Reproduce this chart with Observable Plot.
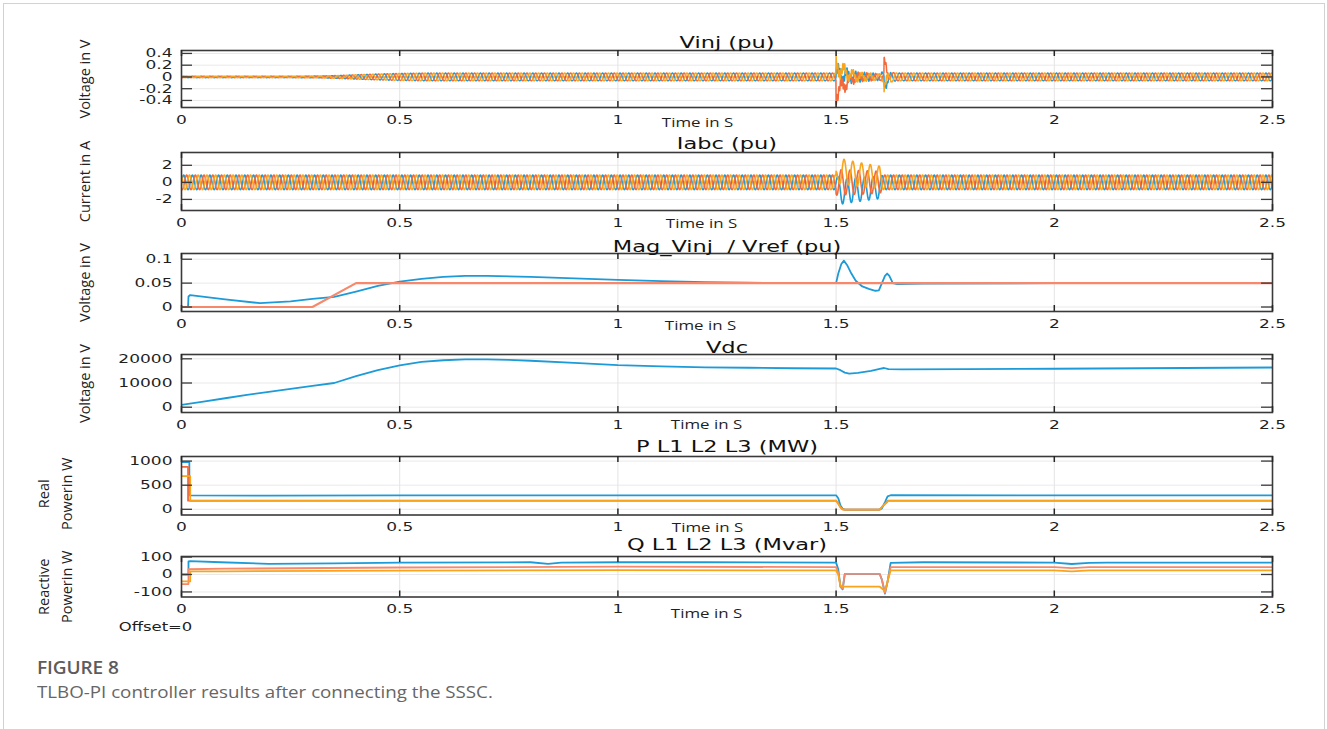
<!DOCTYPE html>
<html>
<head>
<meta charset="utf-8">
<script src="https://cdn.jsdelivr.net/npm/d3@7"></script>
<script src="https://cdn.jsdelivr.net/npm/@observablehq/plot@0.6"></script>
<style>
  html, body { margin: 0; padding: 0; background: #fff; }
  #page { position: relative; width: 1327px; height: 729px; overflow: hidden; background: #fff; }
  #box { position: absolute; left: 3px; top: 3px; width: 1322px; height: 800px; box-sizing: border-box; border: 1.5px solid #d2d2d2; }
  .panel { position: absolute; left: 0; }
  .panel svg { overflow: visible; }
  #figlabel { position: absolute; left: 37px; top: 654px; font-family: "Open Sans", sans-serif; font-weight: 600; font-size: 18.5px; line-height: 26px; color: #5c5c5c; letter-spacing: -0.1px; transform: scaleX(1.03); transform-origin: left center; }
  #figtext { position: absolute; left: 37px; top: 680px; font-family: "Open Sans", sans-serif; font-size: 16.5px; line-height: 24px; color: #666; white-space: nowrap; transform: scaleX(1.135); transform-origin: left center; }
</style>
</head>
<body>
<div id="page">
  <div id="box"></div>
  <div id="panels"></div>
  <div id="figlabel">FIGURE 8</div>
  <div id="figtext">TLBO-PI controller results after connecting the SSSC.</div>
</div>
<script>
// ---------------- DATA ----------------
const xTicks = [0, 0.5, 1, 1.5, 2, 2.5];
const xTickLabels = ["0", "0.5", "1", "1.5", "2", "2.5"];
const xLabel = "Time in S";
const offsetNote = "Offset=0";

const panelTitles = ["Vinj (pu)", "Iabc (pu)", "Mag_Vinj\u00a0 / Vref (pu)", "Vdc", "P L1 L2 L3 (MW)", "Q L1 L2 L3 (Mvar)"];
const panelYLabels = [["Voltage in V"], ["Current in A"], ["Voltage in V"], ["Voltage in V"], ["Real", "Powerin W"], ["Reactive", "Powerin W"]];

const vinjTicks = [-0.4, -0.2, 0, 0.2, 0.4];
const vinjTickLabels = ["-0.4", "-0.2", "0", "0.2", "0.4"];
const iabcTicks = [-2, 0, 2];
const iabcTickLabels = ["-2", "0", "2"];
const magTicks = [0, 0.05, 0.1];
const magTickLabels = ["0", "0.05", "0.1"];
const vdcTicks = [0, 10000, 20000];
const vdcTickLabels = ["0", "10000", "20000"];
const pTicks = [0, 500, 1000];
const pTickLabels = ["0", "500", "1000"];
const qTicks = [-100, 0, 100];
const qTickLabels = ["-100", "0", "100"];

const gridFrequencyHz = 50;     // carrier of the three-phase waveforms
const ringFrequencyHz = 250;    // ringing seen in Vinj during the disturbance

// Vinj (pu): envelope of the 50 Hz band, decaying offsets per phase, ringing amplitude
const vinjAmpT = [0, 0.25, 0.32, 0.36, 0.4, 0.45, 0.5, 0.56, 1.5, 1.5, 1.52, 1.55, 1.6, 1.61, 1.625, 1.64, 2.5];
const vinjAmpV = [0.012, 0.012, 0.016, 0.025, 0.037, 0.05, 0.06, 0.066, 0.066, 0.12, 0.09, 0.06, 0.05, 0.1, 0.08, 0.066, 0.066];
const vinjRingT = [0, 1.5, 1.5, 1.52, 1.55, 1.6, 1.61, 1.61, 1.63, 2.5];
const vinjRingV = [0, 0, 0.08, 0.06, 0.03, 0.01, 0.01, 0.05, 0, 0];
const vinjOffT = [0, 1.5, 1.5, 1.52, 1.545, 1.61, 1.61, 1.618, 1.63, 2.5];
const vinjOffBlue = [0, 0, 0.05, 0.02, 0, 0, -0.1, -0.04, 0, 0];
const vinjOffRed = [0, 0, -0.28, -0.12, 0, 0, 0.2, 0.08, 0, 0];
const vinjOffYellow = [0, 0, 0.18, 0.08, 0, 0, -0.12, -0.05, 0, 0];

// Iabc (pu)
const iabcAmpT = [0, 1.5, 1.5, 1.55, 1.6, 1.608, 2.5];
const iabcAmpV = [0.85, 0.85, 1.5, 1.4, 1.3, 0.85, 0.85];
const iabcOffT = [0, 1.5, 1.506, 1.55, 1.6, 1.608, 2.5];
const iabcOffBlue = [0, 0, -1.1, -0.85, -0.6, 0, 0];
const iabcOffRed = [0, 0, 0, 0, 0, 0, 0];
const iabcOffYellow = [0, 0, 1.35, 0.95, 0.6, 0, 0];

// Mag_Vinj (blue) / Vref (red)
const magT = [0, 0.015, 0.016, 0.02, 0.1, 0.18, 0.25, 0.3, 0.35, 0.4, 0.45, 0.5, 0.55, 0.6, 0.65, 0.7, 0.8, 0.9, 1.0, 1.1, 1.2, 1.3, 1.4, 1.5, 1.505, 1.512, 1.518, 1.525, 1.535, 1.545, 1.56, 1.575, 1.59, 1.598, 1.605, 1.612, 1.617, 1.622, 1.63, 1.64, 1.7, 2.0, 2.5];
const magV = [0, 0, 0.022, 0.025, 0.016, 0.008, 0.012, 0.017, 0.021, 0.032, 0.044, 0.053, 0.059, 0.063, 0.065, 0.065, 0.063, 0.06, 0.057, 0.054, 0.052, 0.051, 0.05, 0.05, 0.07, 0.09, 0.097, 0.088, 0.07, 0.055, 0.043, 0.038, 0.034, 0.035, 0.05, 0.065, 0.07, 0.065, 0.05, 0.048, 0.049, 0.05, 0.05];
const vrefT = [0, 0.3, 0.4, 2.5];
const vrefV = [0, 0, 0.05, 0.05];

// Vdc
const vdcT = [0, 0.05, 0.1, 0.15, 0.2, 0.25, 0.3, 0.35, 0.4, 0.45, 0.5, 0.55, 0.6, 0.65, 0.7, 0.75, 0.8, 0.9, 1.0, 1.1, 1.2, 1.3, 1.4, 1.5, 1.51, 1.52, 1.53, 1.55, 1.58, 1.6, 1.61, 1.62, 1.65, 1.8, 2.0, 2.2, 2.5];
const vdcV = [1000, 2300, 3700, 5100, 6300, 7600, 8800, 10000, 12800, 15300, 17300, 18700, 19400, 19800, 19800, 19600, 19200, 18300, 17400, 16900, 16500, 16300, 16100, 16000, 15300, 14300, 13900, 14200, 15000, 15800, 16200, 15700, 15600, 15700, 15900, 16100, 16400];

// P L1 L2 L3 (MW)
const pBlueT = [0, 0.018, 0.018, 0.2, 0.5, 1.0, 1.5, 1.505, 1.51, 1.515, 1.52, 1.6, 1.605, 1.612, 1.618, 1.625, 2.0, 2.5];
const pBlueV = [980, 980, 290, 282, 290, 290, 290, 230, 80, 10, -5, -5, 20, 150, 270, 292, 290, 290];
const pRedT = [0, 0.015, 0.015, 0.5, 1.5, 1.505, 1.51, 1.515, 1.52, 1.6, 1.61, 1.62, 2.5];
const pRedV = [880, 880, 180, 182, 182, 120, 40, 0, -5, -5, 100, 182, 182];
const pYellowT = [0, 0.02, 0.02, 0.5, 1.5, 1.505, 1.51, 1.515, 1.52, 1.6, 1.61, 1.62, 2.5];
const pYellowV = [690, 690, 172, 176, 176, 115, 40, 0, -5, -5, 95, 176, 176];

// Q L1 L2 L3 (Mvar)
const qBlueT = [0, 0.016, 0.016, 0.02, 0.09, 0.2, 0.35, 0.5, 0.8, 0.84, 0.87, 1.0, 1.2, 1.5, 1.505, 1.51, 1.515, 1.52, 1.6, 1.605, 1.612, 1.618, 1.625, 1.7, 2.0, 2.04, 2.08, 2.12, 2.5];
const qBlueV = [0, 0, 75, 76, 70, 61, 64, 68, 70, 61, 68, 70, 70, 68, 30, -70, -85, 3, 3, -30, -110, -40, 67, 70, 68, 60, 67, 68, 68];
const qRedT = [0, 0.016, 0.016, 0.1, 0.5, 1.0, 1.5, 1.505, 1.51, 1.515, 1.52, 1.6, 1.605, 1.612, 1.618, 1.625, 2.0, 2.04, 2.08, 2.5];
const qRedV = [-55, -55, 30, 33, 40, 45, 42, 10, -70, -80, 3, 3, -30, -105, -40, 42, 42, 36, 42, 42];
const qYellowT = [0, 0.02, 0.02, 0.1, 0.5, 1.0, 1.5, 1.505, 1.51, 1.515, 1.6, 1.605, 1.612, 1.62, 1.625, 2.0, 2.04, 2.08, 2.5];
const qYellowV = [-40, -40, 18, 18, 22, 25, 23, 0, -65, -70, -70, -80, -95, -20, 23, 24, 18, 24, 24];

// ---------------- STYLE ----------------
const BLUE = "#1c9bd8", RED = "#f26a3c", YELLOW = "#f8a51d", SALMON = "#f7886c";
// distinct family strings per text role so each role can be widened like the (horizontally stretched) reference
const TICK_FONT = "DejaVu Sans, Verdana, sans-serif";
const TITLE_FONT = "DejaVu Sans, Bitstream Vera Sans, sans-serif";
const NOTE_FONT = "DejaVu Sans, Arial, sans-serif";
const TIME_FONT = "Open Sans, Noto Sans, sans-serif";
const YLAB_FONT = "Open Sans, Lato, sans-serif";
const stretch = {[TICK_FONT]: 1.42, [TITLE_FONT]: 1.5, [NOTE_FONT]: 1.37, [TIME_FONT]: 1.3};

// ---------------- HELPERS ----------------
function interp(ts, vs, t) {
  const i = d3.bisectRight(ts, t);
  if (i <= 0) return vs[0];
  if (i >= ts.length) return vs[vs.length - 1];
  const t0 = ts[i - 1], t1 = ts[i];
  if (t1 === t0) return vs[i];
  return vs[i - 1] + (vs[i] - vs[i - 1]) * (t - t0) / (t1 - t0);
}
const series = (ts, vs) => ts.map((t, i) => ({t, v: vs[i]}));

const sampleStep = 0.0004;
const times = d3.range(0, 2.5 + 1e-9, sampleStep);
function phaseWave(ampT, ampV, offT, offV, k, ringT, ringV) {
  const ph = k * 2 * Math.PI / 3;
  return times.map(t => {
    let v = interp(ampT, ampV, t) * Math.sin(2 * Math.PI * gridFrequencyHz * t - ph) + interp(offT, offV, t);
    if (ringT) v += interp(ringT, ringV, t) * Math.sin(2 * Math.PI * ringFrequencyHz * t - ph);
    return {t, v};
  });
}

// ---------------- PANELS ----------------
const layout = [
  {top: 50,    bottom: 107,   dom: [-0.52, 0.45],    titleDy: -7.5, timeX: 697, timeDy: 15,   labDy: 0},
  {top: 151.5, bottom: 209.5, dom: [-3.3, 3.5],      titleDy: -8.5, timeX: 701, timeDy: 13,   labDy: 0},
  {top: 252.5, bottom: 310.5, dom: [-0.0094, 0.112], titleDy: -6.5, timeX: 700, timeDy: 14.5, labDy: 0},
  {top: 354,   bottom: 412,   dom: [-2190, 21780],   titleDy: -6,   timeX: 706, timeDy: 12.5, labDy: 0},
  {top: 455.5, bottom: 514,   dom: [-118, 1095],     titleDy: -9,   timeX: 707, timeDy: 13,   labDy: 8},
  {top: 556,   bottom: 596.5, dom: [-129, 103],      titleDy: -11,  timeX: 706, timeDy: 16.5, labDy: 10}
];

const panelTicks = [
  [vinjTicks, vinjTickLabels], [iabcTicks, iabcTickLabels], [magTicks, magTickLabels],
  [vdcTicks, vdcTickLabels], [pTicks, pTickLabels], [qTicks, qTickLabels]
];

const panelLines = [
  [
    {data: phaseWave(vinjAmpT, vinjAmpV, vinjOffT, vinjOffBlue, 0, vinjRingT, vinjRingV), stroke: BLUE, w: 1.5},
    {data: phaseWave(vinjAmpT, vinjAmpV, vinjOffT, vinjOffRed, 1, vinjRingT, vinjRingV), stroke: RED, w: 1.5},
    {data: phaseWave(vinjAmpT, vinjAmpV, vinjOffT, vinjOffYellow, 2, vinjRingT, vinjRingV), stroke: YELLOW, w: 1.5}
  ],
  [
    {data: phaseWave(iabcAmpT, iabcAmpV, iabcOffT, iabcOffBlue, 0), stroke: BLUE, w: 1.6},
    {data: phaseWave(iabcAmpT, iabcAmpV, iabcOffT, iabcOffRed, 1), stroke: RED, w: 1.6},
    {data: phaseWave(iabcAmpT, iabcAmpV, iabcOffT, iabcOffYellow, 2), stroke: YELLOW, w: 1.6}
  ],
  [
    {data: series(magT, magV), stroke: BLUE, w: 1.8},
    {data: series(vrefT, vrefV), stroke: SALMON, w: 2.2}
  ],
  [
    {data: series(vdcT, vdcV), stroke: BLUE, w: 1.8}
  ],
  [
    {data: series(pBlueT, pBlueV), stroke: BLUE, w: 1.8},
    {data: series(pRedT, pRedV), stroke: RED, w: 1.8},
    {data: series(pYellowT, pYellowV), stroke: YELLOW, w: 1.8}
  ],
  [
    {data: series(qBlueT, qBlueV), stroke: BLUE, w: 1.8},
    {data: series(qRedT, qRedV), stroke: SALMON, w: 1.8},
    {data: series(qYellowT, qYellowV), stroke: YELLOW, w: 1.8}
  ]
];

const FL = 181, FR = 1272, W = 1327, MT = 24, MB = 40;
const host = document.getElementById("panels");

layout.forEach((L, p) => {
  const [yt, ytl] = panelTicks[p];
  const [lo, hi] = L.dom;
  const fh = L.bottom - L.top;
  const xTickLen = (hi - lo) * 6 / fh;           // 6 px inward ticks on top/bottom
  const yTickLen = 2.5 * 11 / (FR - FL);          // 11 px inward ticks on left/right
  const labs = panelYLabels[p];
  const labX = labs.length === 1 ? [85] : [44, 67];

  const marks = [
    Plot.ruleY(yt, {y: d => d, stroke: "#e9e9e9", strokeWidth: 1}),
    Plot.ruleX(xTicks.slice(1, -1), {x: d => d, stroke: "#e4e4e4", strokeWidth: 1}),
    ...panelLines[p].map(s => Plot.line(s.data, {x: "t", y: "v", stroke: s.stroke, strokeWidth: s.w, clip: true, curve: "linear"})),
    Plot.frame({stroke: "#3a3a3a", strokeWidth: 1.6}),
    Plot.ruleX(xTicks, {x: d => d, y1: hi, y2: hi - xTickLen, stroke: "#262626", strokeWidth: 1.5}),
    Plot.ruleX(xTicks, {x: d => d, y1: lo, y2: lo + xTickLen, stroke: "#262626", strokeWidth: 1.5}),
    Plot.ruleY(yt, {y: d => d, x1: 0, x2: yTickLen, stroke: "#3a3a3a", strokeWidth: 1.3}),
    Plot.ruleY(yt, {y: d => d, x1: 2.5, x2: 2.5 - yTickLen, stroke: "#3a3a3a", strokeWidth: 1.3}),
    Plot.text(xTicks, {x: d => d, text: (d, i) => xTickLabels[i], frameAnchor: "bottom", dy: 12.5, lineAnchor: "middle", fontFamily: TICK_FONT, fontSize: 12, fill: "#1f1f1f"}),
    Plot.text(yt, {y: d => d, text: (d, i) => ytl[i], frameAnchor: "left", dx: -9, textAnchor: "end", lineAnchor: "middle", fontFamily: TICK_FONT, fontSize: 12, fill: "#1f1f1f"}),
    Plot.text([panelTitles[p]], {frameAnchor: "top", dy: L.titleDy, lineAnchor: "middle", fontFamily: TITLE_FONT, fontSize: 15, fill: "#111"}),
    Plot.text([xLabel], {frameAnchor: "bottom-left", dx: L.timeX - FL, dy: L.timeDy, textAnchor: "middle", lineAnchor: "middle", fontFamily: TIME_FONT, fontSize: 13, fill: "#1f1f1f"}),
    ...labs.map((s, i) => Plot.text([s], {frameAnchor: "left", dx: labX[i] - FL, dy: L.labDy, rotate: -90, textAnchor: "middle", lineAnchor: "middle", fontFamily: YLAB_FONT, fontSize: 14.5, fill: "#222"}))
  ];
  if (p === 5) {
    marks.push(Plot.text([offsetNote], {frameAnchor: "bottom-left", dx: 155 - FL, dy: 30.5, textAnchor: "middle", lineAnchor: "middle", fontFamily: NOTE_FONT, fontSize: 12, fill: "#1f1f1f"}));
  }

  const chart = Plot.plot({
    width: W,
    height: MT + fh + MB,
    marginLeft: FL,
    marginRight: W - FR,
    marginTop: MT,
    marginBottom: MB,
    x: {domain: [0, 2.5], axis: null},
    y: {domain: [lo, hi], axis: null},
    style: {background: "transparent", overflow: "visible"},
    marks
  });

  // widen the text horizontally about its anchor, as in the stretched reference figure
  chart.querySelectorAll("g[font-family]").forEach(g => {
    const sx = stretch[g.getAttribute("font-family")];
    if (!sx) return;
    g.querySelectorAll("text").forEach(t => {
      const tr = t.getAttribute("transform") || "";
      t.setAttribute("transform", (tr + ` scale(${sx},1)`).trim());
    });
  });

  const div = document.createElement("div");
  div.className = "panel";
  div.style.top = (L.top - MT) + "px";
  div.appendChild(chart);
  host.appendChild(div);
});
</script>
</body>
</html>
